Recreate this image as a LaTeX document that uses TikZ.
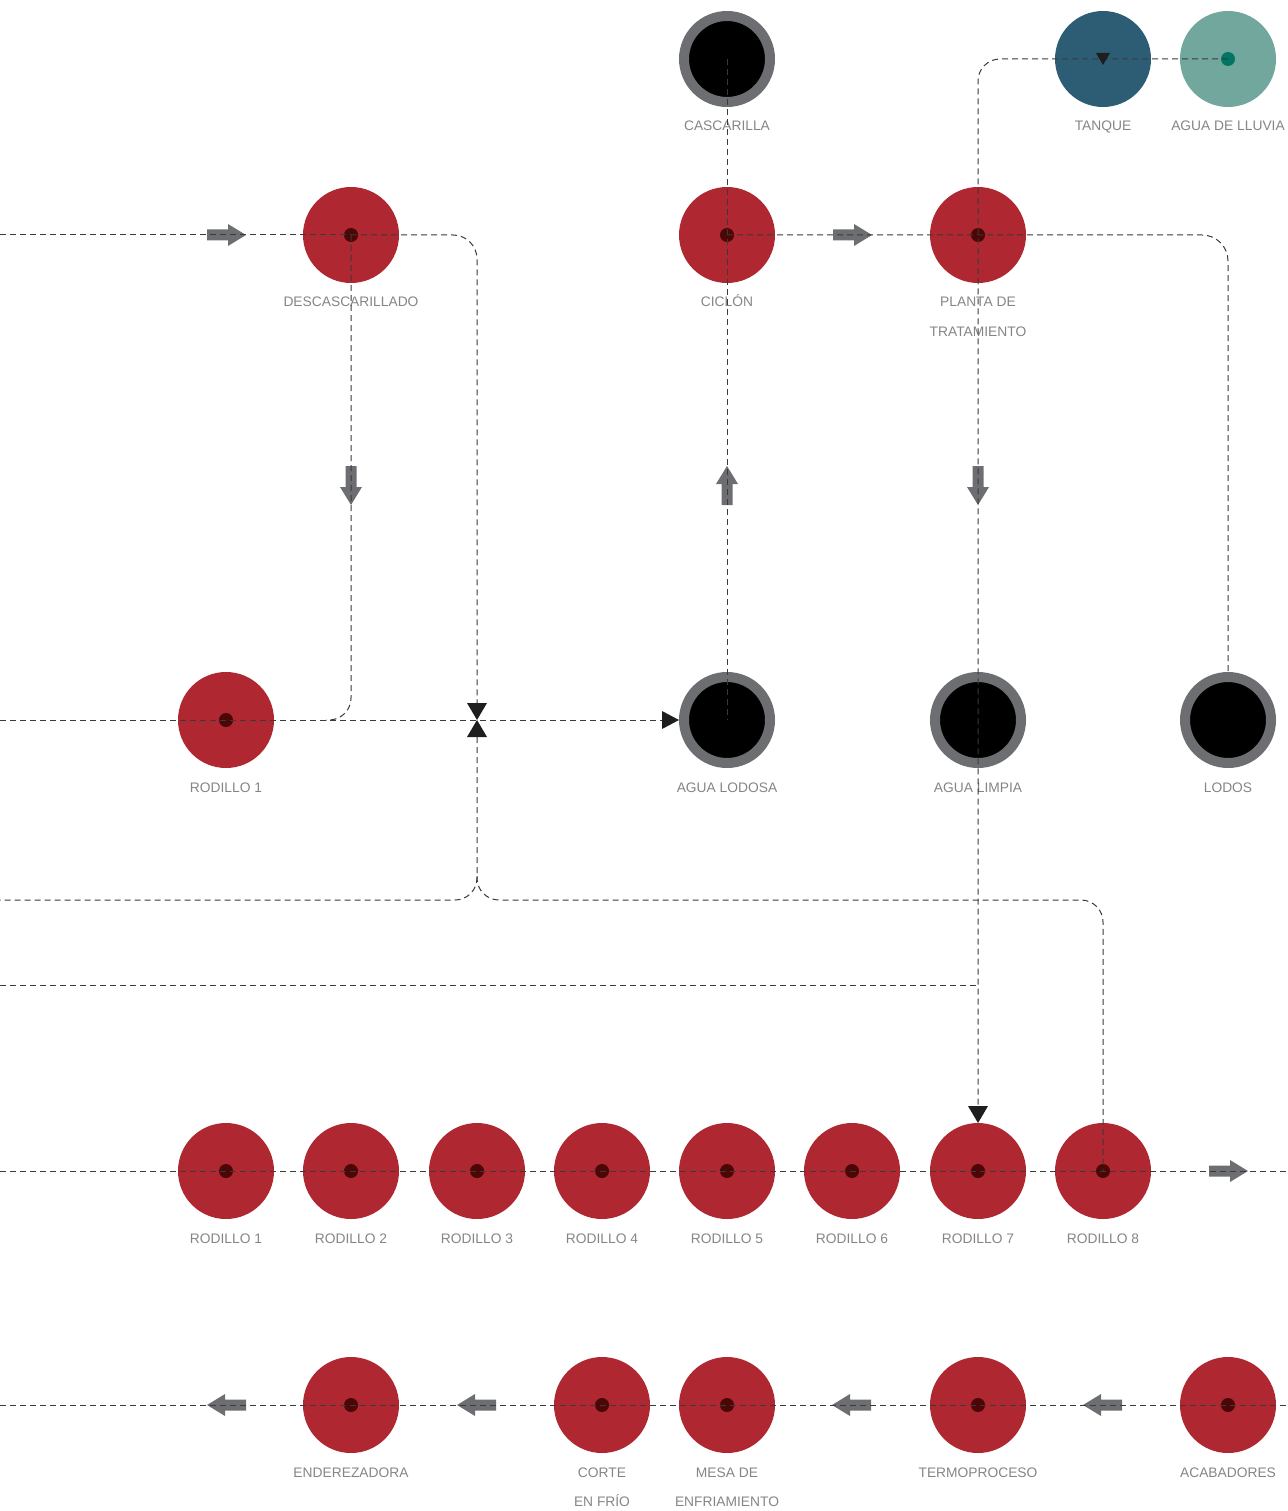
\documentclass[tikz,border=0pt]{standalone}
\usepackage{fontspec}
\setmainfont{Liberation Sans}
\definecolor{procred}{HTML}{AF2730}
\definecolor{dotred}{HTML}{4B0606}
\definecolor{ringgray}{HTML}{6D6E71}
\definecolor{tankblue}{HTML}{2D5D74}
\definecolor{rainteal}{HTML}{72A79D}
\definecolor{raindot}{HTML}{007663}
\definecolor{lblgray}{HTML}{858585}
\definecolor{flowgray}{HTML}{3A3A3A}
\definecolor{tipblack}{HTML}{1E1E1E}
\tikzset{
  redc/.style={circle, fill=procred, minimum size=96pt, inner sep=0pt},
  blkc/.style={circle, fill=black, draw=ringgray, line width=10pt, minimum size=86pt, inner sep=0pt},
  tankc/.style={circle, fill=tankblue, minimum size=96pt, inner sep=0pt},
  rainc/.style={circle, fill=rainteal, minimum size=96pt, inner sep=0pt},
  lbl/.style={anchor=base, inner sep=0pt, text=lblgray, font=\fontsize{13.8}{16}\selectfont},
  flow/.style={draw=flowgray, line width=1pt, dash pattern=on 6pt off 4pt},
  tri/.style={fill=tipblack},
  blockarrow/.pic={\fill[ringgray] (-19,-5.5) -- (2,-5.5) -- (2,-11) -- (20,0) -- (2,11) -- (2,5.5) -- (-19,5.5) -- cycle;}
}
\begin{document}
\begin{tikzpicture}[x=1pt,y=-1pt]
\useasboundingbox (0,0) rectangle (1287,1511);
% ---- circles ----
\node[redc] (desc) at (351,235) {};
\node[redc] (cic) at (727,235) {};
\node[redc] (plant) at (978,235) {};
\node[blkc] (casc) at (727,59) {};
\node[tankc] (tank) at (1103,59) {};
\node[rainc] (rain) at (1228,59) {};
\node[redc] (rodA) at (226,720) {};
\node[blkc] (lodosa) at (727,720) {};
\node[blkc] (limpia) at (978,720) {};
\node[blkc] (lodos) at (1228,720) {};
\foreach \i/\x in {1/226,2/351,3/477,4/602,5/727,6/852,7/978,8/1103}{
  \node[redc] (r\i) at (\x,1171) {};
}
\node[redc] (ender) at (351,1405) {};
\node[redc] (corte) at (602,1405) {};
\node[redc] (mesa) at (727,1405) {};
\node[redc] (termo) at (978,1405) {};
\node[redc] (acab) at (1228,1405) {};
% ---- centre dots ----
\foreach \n in {desc,cic,plant,rodA,r1,r2,r3,r4,r5,r6,r7,r8,ender,corte,mesa,termo,acab}{
  \fill[dotred] (\n.center) circle (7);
}
\fill[raindot] (rain.center) circle (7);
% ---- labels ----
\node[lbl] (lcasc) at ([yshift=-72pt]casc.center) {CASCARILLA};
\node[lbl] (ltank) at ([yshift=-72pt]tank.center) {TANQUE};
\node[lbl] (lrain) at ([yshift=-72pt]rain.center) {AGUA DE LLUVIA};
\node[lbl] (ldesc) at ([yshift=-72pt]desc.center) {DESCASCARILLADO};
\node[lbl] (lcic) at ([yshift=-72pt]cic.center) {CICLÓN};
\node[lbl] (lplant) at ([yshift=-72pt]plant.center) {PLANTA DE};
\node[lbl] (lplantb) at ([yshift=-101pt]plant.center) {TRATAMIENTO};
\node[lbl] (lrodA) at ([yshift=-72pt]rodA.center) {RODILLO 1};
\node[lbl] (llodosa) at ([yshift=-72pt]lodosa.center) {AGUA LODOSA};
\node[lbl] (llimpia) at ([yshift=-72pt]limpia.center) {AGUA LIMPIA};
\node[lbl] (llodos) at ([yshift=-72pt]lodos.center) {LODOS};
\foreach \i in {1,...,8}{
  \node[lbl] (lr\i) at ([yshift=-72pt]r\i.center) {RODILLO \i};
}
\node[lbl] (lender) at ([yshift=-72pt]ender.center) {ENDEREZADORA};
\node[lbl] (lcorte) at ([yshift=-72pt]corte.center) {CORTE};
\node[lbl] (lcorteb) at ([yshift=-101pt]corte.center) {EN FRÍO};
\node[lbl] (lmesa) at ([yshift=-72pt]mesa.center) {MESA DE};
\node[lbl] (lmesab) at ([yshift=-101pt]mesa.center) {ENFRIAMIENTO};
\node[lbl] (ltermo) at ([yshift=-72pt]termo.center) {TERMOPROCESO};
\node[lbl] (lacab) at ([yshift=-72pt]acab.center) {ACABADORES};
% ---- block arrows ----
\pic at (226,235) {blockarrow};
\pic at (852,235) {blockarrow};
\pic at (1228,1171) {blockarrow};
\pic[rotate=-90] at (351,485) {blockarrow};
\pic[rotate=-90] at (978,485) {blockarrow};
\pic[rotate=90] at (727,486) {blockarrow};
\pic[rotate=180] at (227,1405) {blockarrow};
\pic[rotate=180] at (477,1405) {blockarrow};
\pic[rotate=180] at (852,1405) {blockarrow};
\pic[rotate=180] at (1103,1405) {blockarrow};
% ---- coordinates ----
\coordinate (leftA) at (0,235);
\coordinate (cornA) at (477,235);
\coordinate (bowN) at (477,703);
\coordinate (bowC) at (477,720);
\coordinate (bowS) at (477,737);
\coordinate (cornB) at (351,720);
\coordinate (joinB) at (326,720);
\coordinate (leftB) at (0,720);
\coordinate (lodTip) at (679,720);
\coordinate (lodBase) at (663,720);
\coordinate (split) at (477,900);
\coordinate (splitUp) at (477,876);
\coordinate (leftC) at (0,900);
\coordinate (cornC) at (1103,900);
\coordinate (cornD) at (1228,235);
\coordinate (cornE) at (978,59);
\coordinate (r7base) at (978,1106);
\coordinate (r7tip) at (978,1123);
\coordinate (leftD) at (0,985);
\coordinate (joinD) at (978,985);
\coordinate (leftE) at (0,1171);
\coordinate (rightE) at (1287,1171);
\coordinate (leftF) at (0,1405);
\coordinate (rightF) at (1287,1405);
% ---- flow lines ----
\draw[flow] (leftA) -- (desc.center);
\draw[flow, rounded corners=24pt] (desc.center) -- (cornA) -- (bowN);
\draw[flow, rounded corners=22pt] (desc.center) -- (cornB) -- (joinB);
\draw[flow] (leftB) -- (rodA.center) -- (lodBase);
\draw[flow, rounded corners=22pt] (bowS) -- (split) -- (leftC);
\draw[flow, rounded corners=22pt] (splitUp) -- (split) -- (cornC) -- (r8.center);
\draw[flow] (casc.center) -- (lodosa.center);
\draw[flow, rounded corners=26pt] (cic.center) -- (cornD) -- (lodos.north);
\draw[flow, rounded corners=22pt] (rain.center) -- (cornE) -- (r7base);
\draw[flow] (leftD) -- (joinD);
\draw[flow] (leftE) -- (rightE);
\draw[flow] (leftF) -- (rightF);
% ---- triangle tips ----
\fill[tri] (lodTip) -- (662,711) -- (662,729) -- cycle;
\fill[tri] (r7tip) -- (968,1106) -- (988,1106) -- cycle;
\fill[tri] (bowC) -- (467,703) -- (487,703) -- cycle;
\fill[tri] (bowC) -- (467,737) -- (487,737) -- cycle;
\fill[tri] (1103,65) -- (1096,53) -- (1110,53) -- cycle;
\end{tikzpicture}
\end{document}
